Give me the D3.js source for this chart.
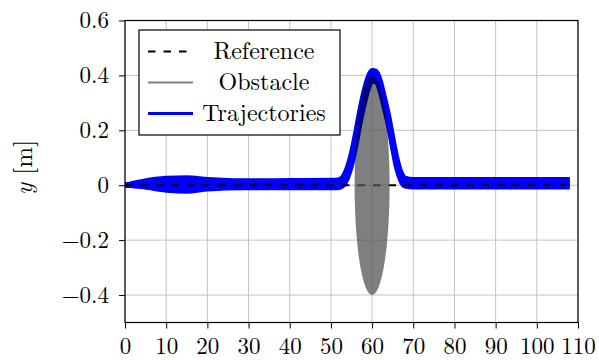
<!DOCTYPE html>
<html>
<head>
<meta charset="utf-8">
<script src="https://cdn.jsdelivr.net/npm/d3@7"></script>
<style>
  body { margin: 0; background: #fff; }
  svg { display: block; }
  text { font-family: "Latin Modern Roman", "CMU Serif", "Liberation Serif", "Times New Roman", serif; fill: #000; }
</style>
</head>
<body>
<div id="chart"></div>
<script>
// chart data
const xTicks = [0, 10, 20, 30, 40, 50, 60, 70, 80, 90, 100, 110];
const yTicks = [-0.4, -0.2, 0, 0.2, 0.4, 0.6];
const legendLabels = ["Reference", "Obstacle", "Trajectories"];

const referenceX = [0, 108];
const referenceY = [0, 0];

const obstacleCenter = [60, 0];
const obstacleRadius = [4.25, 0.4];

// sample x positions shared by all trajectories
const trajX = [0, 4, 10, 15, 20, 29, 40, 51,
  52, 53, 54, 55, 56, 57, 58, 59, 60, 61, 62, 63, 64, 65, 66, 67, 68,
  70, 80, 95, 108];
const traj1 = [0, 0.013, 0.025, 0.027, 0.021, 0.016, 0.017, 0.018,
  0.02, 0.032, 0.065, 0.118, 0.19, 0.27, 0.34, 0.393, 0.418, 0.414, 0.38, 0.32, 0.255, 0.175, 0.1, 0.048, 0.026,
  0.021, 0.021, 0.021, 0.021];
const traj2 = [0, 0.008, 0.014, 0.015, 0.012, 0.009, 0.010, 0.011,
  0.013, 0.024, 0.055, 0.106, 0.178, 0.258, 0.328, 0.382, 0.408, 0.405, 0.37, 0.31, 0.245, 0.165, 0.09, 0.04, 0.019,
  0.015, 0.015, 0.015, 0.015];
const traj3 = [0, 0.004, 0.004, 0.003, 0.003, 0.003, 0.004, 0.004,
  0.006, 0.016, 0.045, 0.095, 0.165, 0.245, 0.315, 0.37, 0.398, 0.395, 0.36, 0.30, 0.235, 0.155, 0.08, 0.032, 0.012,
  0.008, 0.008, 0.008, 0.008];
const traj4 = [0, -0.001, -0.007, -0.010, -0.006, -0.003, -0.003, -0.003,
  -0.001, 0.008, 0.035, 0.084, 0.152, 0.232, 0.302, 0.359, 0.388, 0.386, 0.35, 0.29, 0.225, 0.145, 0.07, 0.024, 0.005,
  0.001, 0.001, 0.001, 0.001];
const traj5 = [0, -0.005, -0.018, -0.022, -0.014, -0.009, -0.009, -0.009,
  -0.008, 0.0, 0.025, 0.072, 0.14, 0.22, 0.29, 0.348, 0.379, 0.376, 0.34, 0.28, 0.215, 0.135, 0.06, 0.016, -0.003,
  -0.006, -0.006, -0.006, -0.006];
const trajectories = [traj1, traj2, traj3, traj4, traj5];

const width = 599, height = 360;
const margin = { top: 20.5, right: 21, bottom: 37.5, left: 125 };

const x = d3.scaleLinear().domain([0, 110]).range([margin.left, width - margin.right]);
const y = d3.scaleLinear().domain([-0.5, 0.6]).range([height - margin.bottom, margin.top]);

const svg = d3.select("#chart").append("svg")
  .attr("width", width)
  .attr("height", height);

svg.append("clipPath").attr("id", "plot-clip")
  .append("rect")
  .attr("x", x(0)).attr("y", y(0.6))
  .attr("width", x(110) - x(0)).attr("height", y(-0.5) - y(0.6));

// grid
const grid = svg.append("g").attr("stroke", "#c4c4c4").attr("stroke-width", 1);
grid.selectAll("line.gx").data(xTicks).enter().append("line")
  .attr("x1", d => x(d)).attr("x2", d => x(d))
  .attr("y1", y(-0.5)).attr("y2", y(0.6));
grid.selectAll("line.gy").data(yTicks).enter().append("line")
  .attr("x1", x(0)).attr("x2", x(110))
  .attr("y1", d => y(d)).attr("y2", d => y(d));

const plot = svg.append("g").attr("clip-path", "url(#plot-clip)");

// reference path
const refLine = d3.line().x(d => x(d[0])).y(d => y(d[1]));
plot.append("path")
  .datum(d3.zip(referenceX, referenceY))
  .attr("d", refLine)
  .attr("fill", "none")
  .attr("stroke", "#000")
  .attr("stroke-width", 2)
  .attr("stroke-dasharray", "7.5 8");

// obstacle
plot.append("ellipse")
  .attr("cx", x(obstacleCenter[0]))
  .attr("cy", y(obstacleCenter[1]))
  .attr("rx", x(obstacleCenter[0] + obstacleRadius[0]) - x(obstacleCenter[0]))
  .attr("ry", y(obstacleCenter[1]) - y(obstacleCenter[1] + obstacleRadius[1]))
  .attr("fill", "#545454")
  .attr("fill-opacity", 0.75);

// trajectories
const trajLine = d3.line()
  .x((d, i) => x(trajX[i]))
  .y(d => y(d))
  .curve(d3.curveMonotoneX);
plot.append("g")
  .style("mix-blend-mode", "multiply")
  .selectAll("path")
  .data(trajectories)
  .enter().append("path")
  .attr("d", trajLine)
  .attr("fill", "none")
  .attr("stroke", "#0000ff")
  .attr("stroke-width", 5)
  .attr("stroke-linejoin", "round");

// axes
const xAxis = svg.append("g")
  .attr("transform", `translate(0,${y(-0.5)})`)
  .call(d3.axisBottom(x).tickValues(xTicks).tickSize(6).tickPadding(9).tickFormat(d3.format("d")));
const yAxis = svg.append("g")
  .attr("transform", `translate(${x(0)},0)`)
  .call(d3.axisLeft(y).tickValues(yTicks).tickSize(6).tickPadding(10)
    .tickFormat(d => d === 0 ? "0" : d3.format(".1f")(d)));
[xAxis, yAxis].forEach(a => {
  a.select(".domain").remove();
  a.selectAll(".tick line").attr("stroke", "#000").attr("stroke-width", 1);
  a.selectAll(".tick text")
    .attr("font-family", null)
    .style("font-size", "23px")
    .attr("fill", "#000");
});

// frame
svg.append("rect")
  .attr("x", x(0)).attr("y", y(0.6))
  .attr("width", x(110) - x(0)).attr("height", y(-0.5) - y(0.6))
  .attr("fill", "none")
  .attr("stroke", "#000")
  .attr("stroke-width", 1.2);

// y label
svg.append("text")
  .attr("transform", `translate(32,${(y(0.6) + y(-0.5)) / 2 - 4}) rotate(-90)`)
  .attr("text-anchor", "middle")
  .style("font-size", "25px")
  .html('<tspan font-style="italic">y</tspan> [m]');

// legend
const legend = svg.append("g").attr("transform", "translate(139,30)");
legend.append("rect")
  .attr("width", 201).attr("height", 105)
  .attr("fill", "#fff")
  .attr("stroke", "#000")
  .attr("stroke-width", 1.2);
const legendStyles = [
  { stroke: "#000", width: 2, dash: "7.5 8" },
  { stroke: "#808080", width: 2, dash: null },
  { stroke: "#0000ff", width: 3, dash: null }
];
const rows = legend.selectAll("g.row").data(legendLabels).enter().append("g")
  .attr("transform", (d, i) => `translate(0,${21.5 + i * 31})`);
rows.append("line")
  .attr("x1", 9).attr("x2", 54)
  .attr("stroke", (d, i) => legendStyles[i].stroke)
  .attr("stroke-width", (d, i) => legendStyles[i].width)
  .attr("stroke-dasharray", (d, i) => legendStyles[i].dash);
rows.append("text")
  .attr("x", 125)
  .attr("y", 7)
  .attr("text-anchor", "middle")
  .style("font-size", "24px")
  .text(d => d);
</script>
</body>
</html>
